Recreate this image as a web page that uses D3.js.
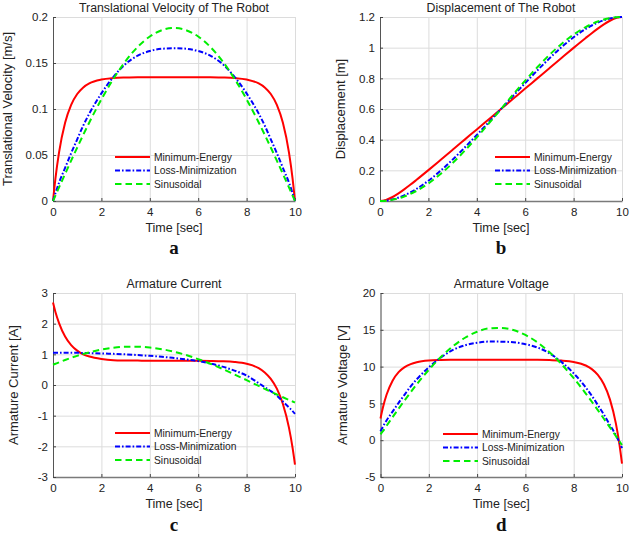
<!DOCTYPE html>
<html><head><meta charset="utf-8">
<script src="https://cdn.jsdelivr.net/npm/d3@7"></script>
<style>
body{margin:0;background:#fff}
svg text{font-family:"Liberation Sans",Arial,Helvetica,sans-serif;fill:#222}
svg text.letter{font-family:"Liberation Serif","DejaVu Serif","Times New Roman",serif;font-weight:bold;fill:#111}
</style>
</head><body>
<svg id="chart" width="630" height="535"></svg>
<script>
// ---------- DATA ----------
const time = [0,0.1,0.25,0.5,0.75,1,1.25,1.5,2,2.5,3,3.5,4,4.5,5,5.5,6,6.5,7,7.5,8,8.5,8.75,9,9.25,9.5,9.75,9.9,10];
const seriesNames = ["Minimum-Energy","Loss-Minimization","Sinusoidal"];

// (a) translational velocity [m/s]
const velEnergy = [0,0.0244,0.0529,0.085,0.1045,0.1163,0.1235,0.1278,0.132,0.1336,0.1342,0.1345,0.1345,0.1345,0.1345,0.1345,0.1345,0.1345,0.1342,0.1336,0.132,0.1278,0.1235,0.1163,0.1045,0.085,0.0529,0.0244,0];
const velLoss   = [0,0.0085,0.02,0.036,0.052,0.067,0.082,0.095,0.117,0.135,0.149,0.158,0.163,0.1655,0.166,0.1655,0.163,0.158,0.149,0.135,0.117,0.095,0.082,0.067,0.052,0.036,0.02,0.0085,0];
const velSine   = [0,0.0059,0.0148,0.0294,0.0439,0.0581,0.0719,0.0854,0.1105,0.1329,0.1521,0.1675,0.1788,0.1857,0.188,0.1857,0.1788,0.1675,0.1521,0.1329,0.1105,0.0854,0.0719,0.0581,0.0439,0.0294,0.0148,0.0059,0];

// (b) displacement [m]
const dispEnergy = [0,0.0013,0.0071,0.0245,0.0482,0.0758,0.1055,0.1368,0.2013,0.2673,0.3337,0.4003,0.467,0.5335,0.6,0.6665,0.733,0.7997,0.8663,0.9327,0.9987,1.0632,1.0945,1.1242,1.1518,1.1755,1.1929,1.1987,1.2];
const dispLoss   = [0,0.0004,0.0026,0.0097,0.021,0.0363,0.0554,0.078,0.1324,0.197,0.2698,0.3485,0.4308,0.515,0.6,0.685,0.7692,0.8515,0.9302,1.003,1.0676,1.122,1.1446,1.1637,1.179,1.1903,1.1974,1.1996,1.2];
const dispSine   = [0,0.0003,0.0019,0.0074,0.0166,0.0294,0.0457,0.0654,0.1146,0.1757,0.2473,0.3276,0.4146,0.5062,0.6,0.6938,0.7854,0.8724,0.9527,1.0243,1.0854,1.1346,1.1543,1.1706,1.1834,1.1926,1.1981,1.1997,1.2];

// (c) armature current [A]
const curEnergy = [2.69,2.38,2.02,1.58,1.30,1.12,1.0,0.93,0.85,0.81,0.80,0.795,0.79,0.79,0.79,0.79,0.79,0.785,0.775,0.75,0.69,0.55,0.41,0.2,-0.12,-0.62,-1.39,-2.05,-2.6];
const curLoss   = [1.05,1.05,1.05,1.05,1.05,1.05,1.045,1.04,1.03,1.015,1.0,0.975,0.95,0.92,0.88,0.835,0.78,0.7,0.6,0.47,0.31,0.06,-0.07,-0.2,-0.35,-0.54,-0.73,-0.85,-0.94];
const curSine   = [0.66,0.692,0.74,0.816,0.886,0.951,1.011,1.065,1.154,1.215,1.248,1.251,1.224,1.168,1.085,0.976,0.844,0.693,0.525,0.345,0.159,-0.031,-0.125,-0.219,-0.31,-0.40,-0.486,-0.537,-0.57];

// (d) armature voltage [V]
const voltEnergy = [2.95,4.44,6.17,8.09,9.25,9.93,10.34,10.59,10.82,10.89,10.92,10.94,10.94,10.94,10.94,10.94,10.94,10.93,10.89,10.82,10.63,10.15,9.66,8.87,7.60,5.55,2.21,-0.70,-3.18];
const voltLoss   = [1.20,1.83,2.69,3.88,5.08,6.20,7.31,8.27,9.90,11.23,12.26,12.90,13.24,13.40,13.39,13.30,13.05,12.59,11.80,10.61,9.08,7.16,6.04,4.77,3.48,2.07,0.66,-0.34,-1.07];
const voltSine   = [0.80,1.23,1.95,3.12,4.29,5.42,6.52,7.59,9.56,11.30,12.77,13.92,14.74,15.19,15.26,14.97,14.30,13.29,11.95,10.31,8.42,6.34,5.22,4.08,2.92,1.74,0.55,-0.17,-0.65];

// tick labels
const timeTicks = [0,2,4,6,8,10];
const velTicks  = [0,0.05,0.1,0.15,0.2];
const dispTicks = [0,0.2,0.4,0.6,0.8,1,1.2];
const curTicks  = [-3,-2,-1,0,1,2,3];
const voltTicks = [-5,0,5,10,15,20];

// ---------- STYLE / LAYOUT ----------
const colors = ["#ff0000","#0000ff","#00ee00"];
const dashes = [null,"5,2,1.6,2","6.5,4"];

const panels = [
  {letter:"a", x0:53, x1:295, y0:17, y1:201, title:"Translational Velocity of The Robot", ylabel:"Translational Velocity [m/s]",
   yDomain:[0,0.2], yTicks:velTicks, data:[velEnergy,velLoss,velSine], legX:115, legY:157, ylabX:12, titleY:12, letterY:254},
  {letter:"b", x0:380, x1:622, y0:17, y1:201, title:"Displacement of The Robot", ylabel:"Displacement [m]",
   yDomain:[0,1.2], yTicks:dispTicks, data:[dispEnergy,dispLoss,dispSine], legX:495, legY:157, ylabX:345, titleY:12, letterY:254},
  {letter:"c", x0:53, x1:295, y0:293, y1:477, title:"Armature Current", ylabel:"Armature Current [A]",
   yDomain:[-3,3], yTicks:curTicks, data:[curEnergy,curLoss,curSine], legX:115, legY:433, ylabX:18, titleY:288, letterY:531},
  {letter:"d", x0:380.5, x1:622, y0:293, y1:477, title:"Armature Voltage", ylabel:"Armature Voltage [V]",
   yDomain:[-5,20], yTicks:voltTicks, data:[voltEnergy,voltLoss,voltSine], legX:443, legY:434, ylabX:347, titleY:288, letterY:531}
];

const svg = d3.select("#chart");

panels.forEach(p => {
  const x = d3.scaleLinear().domain([0,10]).range([p.x0,p.x1]);
  const y = d3.scaleLinear().domain(p.yDomain).range([p.y1,p.y0]);
  const g = svg.append("g");

  // grid
  g.append("g").attr("transform",`translate(0,${p.y1})`)
    .call(d3.axisBottom(x).tickValues(timeTicks).tickSize(-(p.y1-p.y0)).tickFormat(""))
    .call(s=>{s.select(".domain").remove(); s.selectAll("line").attr("stroke","#dcdcdc").attr("stroke-width",1);});
  g.append("g").attr("transform",`translate(${p.x0},0)`)
    .call(d3.axisLeft(y).tickValues(p.yTicks).tickSize(-(p.x1-p.x0)).tickFormat(""))
    .call(s=>{s.select(".domain").remove(); s.selectAll("line").attr("stroke","#dcdcdc").attr("stroke-width",1);});

  // axes
  const xa = g.append("g").attr("transform",`translate(0,${p.y1})`)
    .call(d3.axisBottom(x).tickValues(timeTicks).tickSizeInner(-3).tickSizeOuter(0).tickPadding(7).tickFormat(d=>String(d)));
  xa.select(".domain").attr("stroke","#7a7a7a").attr("stroke-width",1.6);
  xa.selectAll("line").attr("stroke","#444");
  xa.selectAll("text").attr("font-size",11.5).attr("fill","#222");

  const ya = g.append("g").attr("transform",`translate(${p.x0},0)`)
    .call(d3.axisLeft(y).tickValues(p.yTicks).tickSizeInner(-3).tickSizeOuter(0).tickPadding(5).tickFormat(d=>String(d)));
  ya.select(".domain").attr("stroke","#555").attr("stroke-width",1);
  ya.selectAll("line").attr("stroke","#444");
  ya.selectAll("text").attr("font-size",11.5).attr("fill","#222");

  // lines
  p.data.forEach((vals,i) => {
    const line = d3.line().x((d,j)=>x(time[j])).y(d=>y(d)).curve(d3.curveMonotoneX);
    g.append("path").datum(vals).attr("d",line).attr("fill","none")
      .attr("stroke",colors[i]).attr("stroke-width",2)
      .attr("stroke-dasharray",dashes[i]);
  });

  // legend
  seriesNames.forEach((name,i)=>{
    const ly = p.legY + i*13.5;
    g.append("line").attr("x1",p.legX).attr("x2",p.legX+35).attr("y1",ly).attr("y2",ly)
      .attr("stroke",colors[i]).attr("stroke-width",2).attr("stroke-dasharray",dashes[i]);
    g.append("text").attr("x",p.legX+39).attr("y",ly+3.8).attr("font-size",10.3).text(name);
  });

  // titles & labels
  const cx = (p.x0+p.x1)/2, cy=(p.y0+p.y1)/2;
  g.append("text").attr("x",cx).attr("y",p.titleY).attr("text-anchor","middle").attr("font-size",12.3).text(p.title);
  g.append("text").attr("x",cx).attr("y",p.y1+31).attr("text-anchor","middle").attr("font-size",12.5).text("Time [sec]");
  g.append("text").attr("transform",`translate(${p.ylabX},${cy}) rotate(-90)`).attr("text-anchor","middle")
    .attr("font-size",13).text(p.ylabel);
  g.append("text").attr("class","letter").attr("x",cx).attr("y",p.letterY).attr("text-anchor","middle")
    .attr("font-size",19).text(p.letter);
});
</script>
</body></html>
